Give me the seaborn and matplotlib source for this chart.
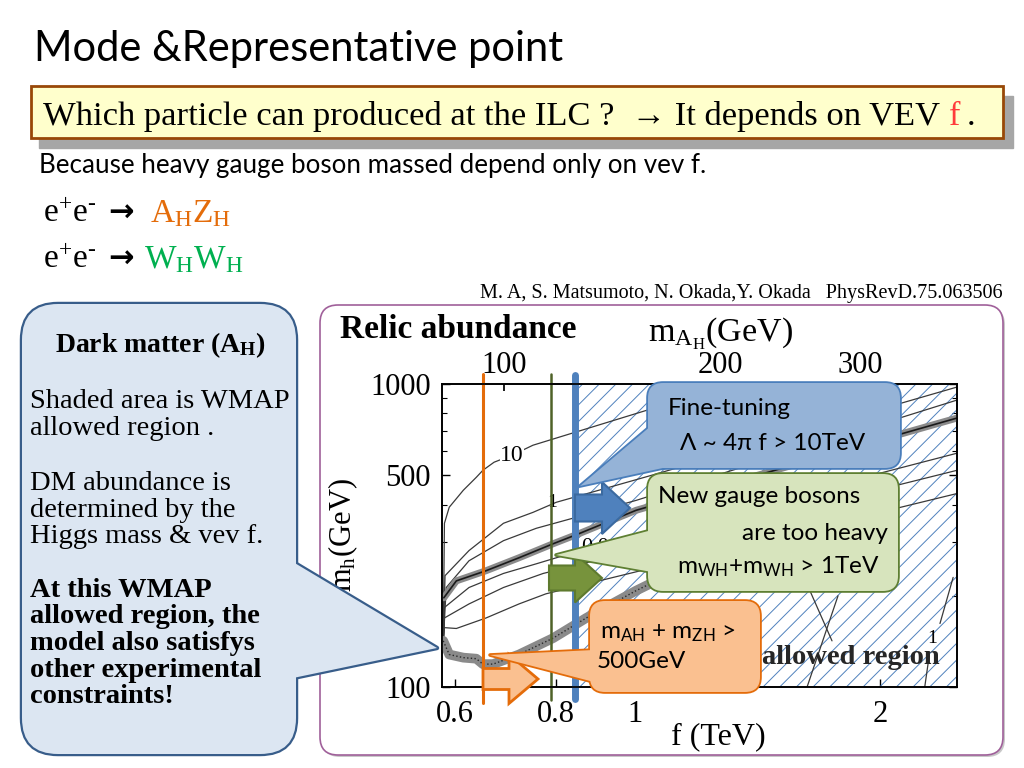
import numpy as np
import pandas as pd
import matplotlib
matplotlib.use("Agg")
import matplotlib.pyplot as plt
from matplotlib.patches import FancyBboxPatch, Polygon, FancyArrow, Rectangle
from matplotlib.ticker import FixedLocator, NullLocator, NullFormatter
import seaborn as sns

# relic abundance contours: f in TeV, m_h in GeV
f_c10 = [0.581, 0.583, 0.591, 0.615, 0.638, 0.650, 0.671, 0.706, 0.749, 1.035, 1.305]
m_c10 = [140, 347, 392, 446, 492, 519, 552, 582, 628, 820, 1000]
f_c1 = [0.581, 0.584, 0.625, 0.689, 0.749, 0.800, 1.035, 2.487]
m_c1 = [140, 233, 282, 347, 377, 407, 495, 977]
f_c3 = [0.581, 0.586, 0.625, 0.689, 0.756, 0.846, 1.003, 2.487]
m_c3 = [140, 213, 261, 304, 334, 363, 413, 885]
f_c4 = [0.581, 0.583, 0.625, 0.689, 0.756, 0.830, 2.487]
m_c4 = [140, 183, 213, 237, 255, 275, 591]
f_c5 = [0.581, 0.583, 0.625, 0.689, 0.771, 2.487]
m_c5 = [140, 169, 188, 213, 237, 519]
f_c6 = [0.581, 0.583, 0.603, 0.656, 0.720, 0.777, 2.487]
m_c6 = [140, 157, 156, 169, 188, 203, 435]
# steep contours, lower right
f_s1 = [1.64, 1.746]
m_s1 = [208, 142]
f_s2 = [1.776, 1.627]
m_s2 = [200, 100]
f_s3 = [2.46, 2.37]
m_s3 = [230, 162]
f_s4 = [2.30, 2.27]
m_s4 = [128, 100]

# WMAP allowed bands
f_band_up = [0.582, 0.603, 0.656, 0.720, 0.793, 0.854, 1.003, 2.098, 2.487]
m_band_up = [197, 224, 242, 267, 297, 321, 383, 678, 772]
f_band_lo = [0.581, 0.591, 0.615, 0.638, 0.650, 0.669, 0.720, 0.793, 0.871, 1.003, 1.061, 2.0]
m_band_lo = [142, 128, 125, 124, 119, 119, 128, 145, 169, 208, 224, 397]

# constraint lines (f in TeV)
f_orange = 0.650
f_green = 0.788
f_blue = 0.844

# axes
x_ticks = [0.6, 0.8, 1, 2]
x_labels = ["0.6", "0.8", "1", "2"]
y_ticks = [100, 500, 1000]
y_minor = [200, 300, 400, 600, 700, 800, 900]
mah_labels = ["100", "200", "300"]
mah_f = [0.690, 1.272, 1.890]
f_lim = (0.579, 2.487)
m_lim = (100, 1000)

sns.set_theme(style="white")
plt.rcParams["font.family"] = ["Liberation Serif", "DejaVu Sans"]
plt.rcParams.update({
    "text.color": "black", "axes.edgecolor": "black", "xtick.color": "black",
    "ytick.color": "black", "axes.labelcolor": "black",
    "mathtext.fontset": "custom", "mathtext.rm": "Liberation Serif",
    "mathtext.it": "Liberation Serif:italic", "mathtext.bf": "Liberation Serif:bold",
    "mathtext.sf": "Lato", "hatch.linewidth": 0.7,
})
SANS = ["Lato", "DejaVu Sans"]

fig = plt.figure(figsize=(10.24, 7.68), dpi=100)


def px_axes(a):
    a.set_xlim(0, 1024)
    a.set_ylim(768, 0)
    a.axis("off")


bg = fig.add_axes([0, 0, 1, 1], zorder=0)
px_axes(bg)
ax = fig.add_axes([442 / 1024, (768 - 687) / 768, (957 - 442) / 1024, (687 - 384) / 768], zorder=1)
top = fig.add_axes([0, 0, 1, 1], zorder=3)
px_axes(top)
top.patch.set_alpha(0)

renderer = fig.canvas.get_renderer()


def seq(a, x, y, parts, **kw):
    for part in parts:
        txt, col, gap = part[:3]
        extra = dict(kw)
        if len(part) > 3:
            extra.update(part[3])
        t = a.text(x, y, txt, color=col, va="baseline", **extra)
        x += t.get_window_extent(renderer).width + gap


# ---- slide header ----
bg.text(34, 61, "Mode &Representative point", family=SANS, fontsize=30, va="baseline")
bg.add_patch(Rectangle((39, 96), 974, 52, color="#A6A6A6", zorder=1))
bg.add_patch(Rectangle((31, 86), 972, 52, fc="#FFFFCC", ec="#984807", lw=2, zorder=2))
seq(bg, 43, 125, [("Which particle can produced at the ILC ?  \u2192 It depends on VEV", "black", 9),
                  ("f", "#FF3B3B", 6), (".", "black", 0)], fontsize=24.8, zorder=3)
bg.text(39, 173, "Because heavy gauge boson massed depend only on vev f.", family=SANS,
        fontsize=18.7, va="baseline")
arrow_kw = {"family": ["DejaVu Sans"], "weight": "bold", "fontsize": 22}
ee = r"$\mathrm{e^{+}e^{\text{-}}}$"
seq(bg, 43, 222, [(ee, "black", 12, {}), ("\u2192", "black", 16, arrow_kw),
                  (r"$\mathrm{A_HZ_H}$", "#E46C0A", 0)], fontsize=24)
seq(bg, 43, 268, [(ee, "black", 12, {}), ("\u2192", "black", 10, arrow_kw),
                  (r"$\mathrm{W_HW_H}$", "#00B050", 0)], fontsize=24)
bg.text(1003, 298, "M. A, S. Matsumoto, N. Okada,Y. Okada   PhysRevD.75.063506", fontsize=14.5,
        ha="right", va="baseline")

# ---- chart frame and labels ----
bg.add_patch(FancyBboxPatch((322, 307), 683, 450, boxstyle="round,pad=0,rounding_size=18",
                            fc="#C8C8C8", ec="none", zorder=1))
bg.add_patch(FancyBboxPatch((320, 305), 683, 450, boxstyle="round,pad=0,rounding_size=18",
                            fc="white", ec="#A0609A", lw=1.2, zorder=2))
bg.text(340, 338, "Relic abundance", fontsize=24, weight="bold", va="baseline", zorder=3)
bg.text(648, 342, r"$\mathrm{m}_{\mathrm{A_H}}\mathrm{(GeV)}$", fontsize=24.5, va="baseline", zorder=3)
bg.text(671, 744, "f (TeV)", fontsize=23, va="baseline", zorder=3)
bg.text(343, 535, r"$\mathrm{m_h(GeV)}$", fontsize=22, rotation=90, ha="center", va="center", zorder=3)

# ---- data axes ----
ax.set_xscale("log")
ax.set_yscale("log")
ax.fill_betweenx(m_lim, f_blue, f_lim[1], facecolor="none", edgecolor="#4F81BD", hatch="//",
                 lw=0, zorder=1)

curves = [("c10", f_c10, m_c10), ("c1", f_c1, m_c1), ("c3", f_c3, m_c3), ("c4", f_c4, m_c4),
          ("c5", f_c5, m_c5), ("c6", f_c6, m_c6), ("s1", f_s1, m_s1), ("s2", f_s2, m_s2),
          ("s3", f_s3, m_s3), ("s4", f_s4, m_s4)]
thin = pd.concat([pd.DataFrame({"f": f, "m": m, "curve": name}) for name, f, m in curves])
sns.lineplot(data=thin, x="f", y="m", units="curve", estimator=None, sort=False,
             color="#3a3a3a", lw=0.9, ax=ax, legend=False, zorder=2)
sns.lineplot(x=f_band_up, y=m_band_up, sort=False, color="#8a8a8a", lw=5, ax=ax, zorder=3)
sns.lineplot(x=f_band_up, y=m_band_up, sort=False, color="#1a1a1a", lw=1.2, ax=ax, zorder=3)
sns.lineplot(x=f_band_lo, y=m_band_lo, sort=False, color="#8a8a8a", lw=7, ax=ax, zorder=3)
sns.lineplot(x=f_band_lo, y=m_band_lo, sort=False, color="#2a2a2a", lw=1, ls=":", ax=ax, zorder=3)

ax.text(0.706, 582, "10", fontsize=17, ha="center", va="center", zorder=4,
        bbox=dict(fc="white", ec="none", pad=0))
ax.text(0.79, 405, "1", fontsize=14, ha="center", va="center", zorder=4)
ax.text(0.906, 288, "0.01", fontsize=16, ha="center", va="center", zorder=4)
ax.text(2.32, 145, "1", fontsize=14, ha="center", va="center", zorder=4)
ax.text(1.432, 125, "allowed region", fontsize=20.5, weight="bold", ha="left",
        va="center", color="#262626", zorder=4)

ax.axvline(f_orange, ymin=-0.053, ymax=1.033, color="#E46C0A", lw=2.2, clip_on=False, zorder=5)
ax.axvline(f_green, ymin=-0.043, ymax=1.033, color="#4F6228", lw=1.8, clip_on=False, zorder=5)
ax.axvline(f_blue, ymin=-0.040, ymax=1.030, color="#4F81BD", lw=5, clip_on=False, zorder=5)

ax.set_xlim(f_lim)
ax.set_ylim(m_lim)
ax.set_xlabel("")
ax.set_ylabel("")
ax.xaxis.set_major_locator(FixedLocator(x_ticks))
ax.set_xticklabels(x_labels)
ax.xaxis.set_minor_locator(NullLocator())
ax.yaxis.set_major_locator(FixedLocator(y_ticks))
ax.set_yticklabels([str(v) for v in y_ticks])
ax.yaxis.set_minor_locator(FixedLocator(y_minor))
ax.yaxis.set_minor_formatter(NullFormatter())
ax.tick_params(which="both", direction="in", bottom=True, left=True, right=True, top=False,
               labelsize=22)
ax.tick_params(which="major", length=6, width=1)
ax.tick_params(which="minor", length=3.5, width=0.8)
ax.tick_params(axis="x", pad=9)
ax.tick_params(axis="y", pad=8)
for s in ax.spines.values():
    s.set_linewidth(1.1)
    s.set_color("black")

ax2 = ax.twiny()
ax2.set_zorder(1.5)
ax2.set_xscale("log")
ax2.set_xlim(f_lim)
ax2.xaxis.set_major_locator(FixedLocator(mah_f))
ax2.set_xticklabels(mah_labels)
ax2.xaxis.set_minor_locator(NullLocator())
ax2.tick_params(which="both", direction="in", top=True, length=5, labelsize=22, pad=3)
ax2.grid(False)

# ---- block arrows ----
top.add_patch(FancyArrow(483, 679, 55, 0, width=21, head_width=49, head_length=29,
                         length_includes_head=True, fc="#FAC090", ec="#E46C0A", lw=2, zorder=2))
top.add_patch(FancyArrow(549, 578, 53, 0, width=25, head_width=49, head_length=27,
                         length_includes_head=True, fc="#77933C", ec="#5E7A2E", lw=1.5, zorder=2))
top.add_patch(FancyArrow(575, 508, 55, 0, width=27, head_width=52, head_length=28,
                         length_includes_head=True, fc="#4F81BD", ec="#3B6AA0", lw=1.5, zorder=2))


def callout(x0, y0, x1, y1, r, ptr, fc, ec, lw, z):
    for face, edge, w, zz in [("none", ec, lw * 2, z), (fc, "none", 0, z + 0.1)]:
        top.add_patch(FancyBboxPatch((x0, y0), x1 - x0, y1 - y0,
                                     boxstyle=f"round,pad=0,rounding_size={r}",
                                     fc=face, ec=edge, lw=w, zorder=zz))
        top.add_patch(Polygon(ptr, closed=True, fc=face, ec=edge, lw=w, zorder=zz,
                              joinstyle="round"))


# left panel
callout(22, 304, 296, 754, 36, [(293, 562), (437, 648), (293, 678)], "#DCE6F2", "#385D8A", 1.6, 3)
top.text(160, 352, r"$\mathbf{Dark\ matter\ (A_H)}$", fontsize=20, ha="center", va="baseline", zorder=4)
for y, line in [(408, "Shaded area is WMAP"), (435, "allowed region ."), (490, "DM abundance is"),
                (517, "determined by the"), (543, "Higgs mass & vev f.")]:
    top.text(30, y, line, fontsize=20.5, va="baseline", zorder=4)
for y, line in [(597, "At this WMAP"), (623, "allowed region, the"), (650, "model also satisfys"),
                (677, "other experimental"), (703, "constraints!")]:
    top.text(30, y, line, fontsize=20.5, weight="bold", va="baseline", zorder=4)

# fine-tuning
callout(648, 383, 900, 468, 15, [(652, 425), (580, 486), (672, 466)], "#95B3D7", "#4A7EBB", 1.3, 5)
top.text(668, 415, "Fine-tuning", family=SANS, fontsize=17.5, va="baseline", zorder=6)
top.text(680, 450, "\u039b ~ 4\u03c0 f > 10TeV", family=SANS, fontsize=17.5, va="baseline", zorder=6)

# gauge bosons
callout(648, 474, 898, 591, 15, [(652, 530), (556, 555), (652, 572)], "#D7E4BD", "#5E7F32", 1.3, 7)
top.text(658, 503, "New gauge bosons", family=SANS, fontsize=17.5, va="baseline", zorder=8)
top.text(888, 540, "are too heavy", family=SANS, fontsize=17.5, ha="right", va="baseline", zorder=8)
top.text(880, 573, r"$\mathsf{m_{WH}}$+$\mathsf{m_{WH}}$ > 1TeV", family=SANS, fontsize=17.5,
         ha="right", va="baseline", zorder=8)

# m_AH + m_ZH
callout(590, 601, 760, 692, 15, [(594, 650), (490, 655), (594, 682)], "#FAC090", "#E46C0A", 1.3, 9)
top.text(600, 638, r"$\mathsf{m_{AH}}$ + $\mathsf{m_{ZH}}$ >", family=SANS, fontsize=17.5,
         va="baseline", zorder=10)
top.text(597, 668, "500GeV", family=SANS, fontsize=17.5, va="baseline", zorder=10)

fig.savefig("out.png", dpi=100)
